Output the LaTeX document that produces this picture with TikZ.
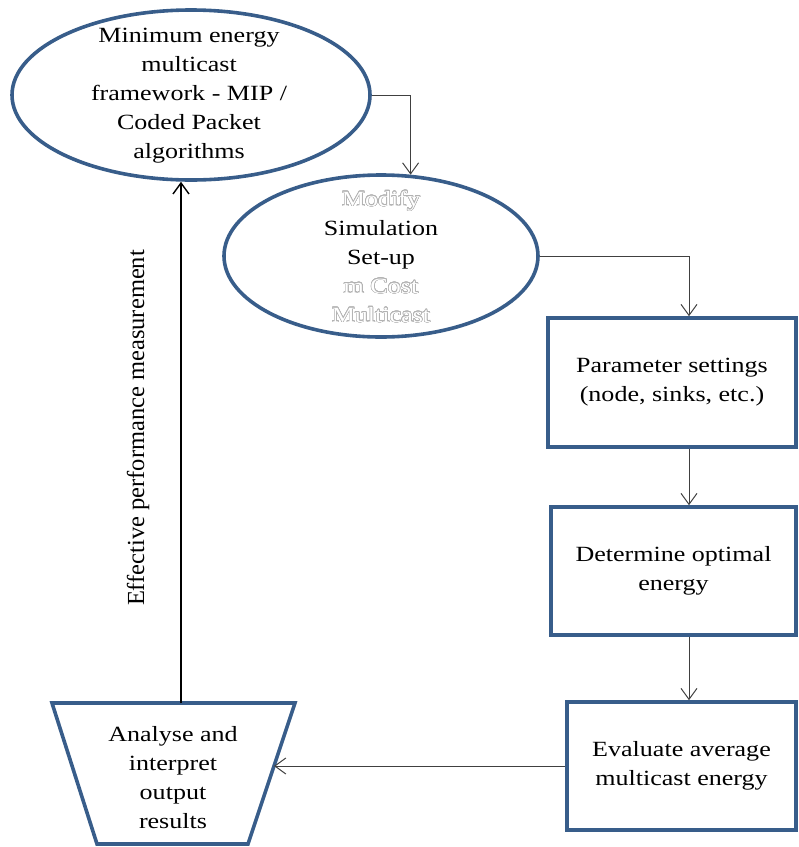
\documentclass[tikz,border=0pt]{standalone}
\usepackage{fontspec}
\usepackage[copies]{contour}
\setmainfont{Liberation Serif}[FakeStretch=1.2]
\newfontfamily\sidefont{Liberation Serif}
\usetikzlibrary{shapes.geometric,arrows.meta}
\definecolor{frameblue}{RGB}{56,93,138}
\contourlength{0.55pt}
\contournumber{24}
\newcommand{\hollow}[1]{\contour{black!30}{\color{white}#1}}
\tikzset{
  txt/.style={font=\fontsize{21.7}{29}\selectfont, align=center, inner sep=0pt},
  ovalbox/.style={ellipse, draw=frameblue, line width=3.6pt, inner sep=0pt},
  stepbox/.style={rectangle, draw=frameblue, line width=3.6pt, inner sep=0pt,
    font=\fontsize{21.7}{29}\selectfont, align=center},
  flow/.style={draw=black!75, line width=1pt,
    -{Straight Barb[length=11pt,width=16pt,line width=1pt]}},
  feedback/.style={draw=black, line width=2pt,
    -{Straight Barb[length=11pt,width=16pt,line width=1.4pt]}}
}
\begin{document}
\begin{tikzpicture}[x=1pt,y=-1pt]
\useasboundingbox (0,0) rectangle (799,847);

% ellipses with their captions
\node[ovalbox, minimum width=358pt, minimum height=170pt] (e1) at (191,95) {};
\node[txt] (t1) at (189,96) {Minimum energy\\multicast\\framework - MIP /\\Coded Packet\\algorithms};

\node[ovalbox, minimum width=314pt, minimum height=162pt] (e2) at (381,256) {};
\node[txt] (t2) at (381,257) {\hollow{Modify}\\Simulation\\Set-up\\\hollow{m Cost}\\\hollow{Multicast}};

% process boxes
\node[stepbox, minimum width=248pt, minimum height=129pt] (b1) at (672,382.5) {Parameter settings\\(node, sinks, etc.)};
\node[stepbox, minimum width=245pt, minimum height=128pt] (b2) at (673.5,571) {Determine optimal\\energy};
\node[stepbox, minimum width=229pt, minimum height=128pt] (b3) at (681.5,766) {Evaluate average\\multicast energy};

% inverted trapezium for the analysis step
\draw[frameblue, line width=3.6pt, line join=miter]
  (52,703) -- (295,703) -- (248,844) -- (97,844) -- cycle;
\coordinate (trtop) at (181,703);
\coordinate (trright) at (274,766);
\node[txt] (t3) at (173,778) {Analyse and\\interpret\\output\\results};

% side label of the feedback loop
\node[rotate=90, inner sep=0pt, font=\sidefont\fontsize{24.5}{29}\selectfont] (lbl) at (138,428) {Effective performance measurement};

% connectors
\coordinate (colx) at (689,0);
\draw[flow] (e1.east) -| (e2.70);
\draw[flow] (e2.east) -| (b1.north -| colx);
\draw[flow] (b1.south -| colx) -- (b2.north -| colx);
\draw[flow] (b2.south -| colx) -- (b3.north -| colx);
\draw[flow] (b3.west) -- (trright);
\draw[feedback] (trtop) -- (trtop |- e1.south);
\end{tikzpicture}
\end{document}
